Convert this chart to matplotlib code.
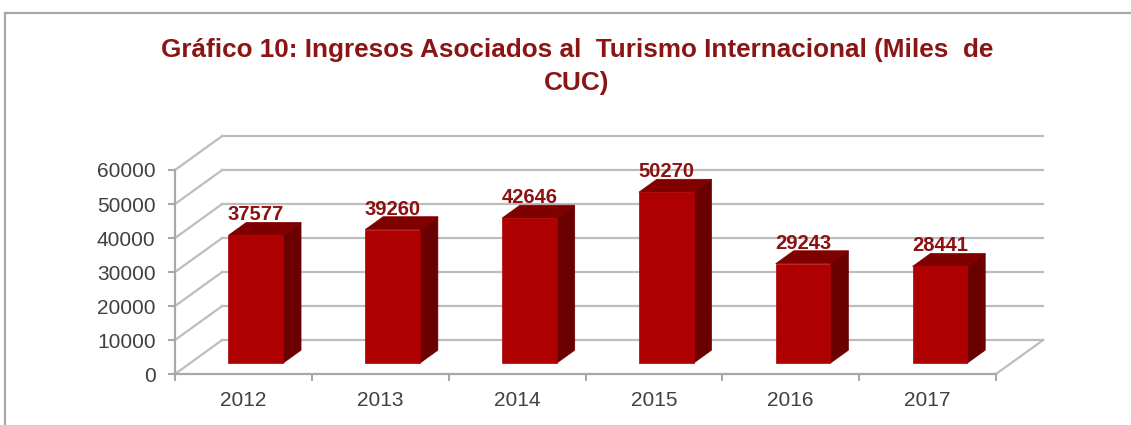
import matplotlib
matplotlib.use("Agg")
import matplotlib.pyplot as plt
from matplotlib.patches import Polygon
from matplotlib.lines import Line2D

# ── Data ─────────────────────────────────────────────────────────────────────
years  = ["2012", "2013", "2014", "2015", "2016", "2017"]
values = [37577, 39260, 42646, 50270, 29243, 28441]
yticks = [0, 10000, 20000, 30000, 40000, 50000, 60000]
title1 = "Gráfico 10: Ingresos Asociados al  Turismo Internacional (Miles  de"
title2 = "CUC)"

# ── Style ────────────────────────────────────────────────────────────────────
FONT   = "Liberation Sans"
c_front, c_side, c_top = "#AE0000", "#6A0000", "#800000"
c_lab   = "#8C1010"
c_grid  = "#BDBDBD"
c_axis  = "#A8A8A8"
c_tick  = "#404040"

# 3D depth offsets (in data units): one gridline step up, ~1/3 category right
DX, DY = 0.345, 10000
f0, f1 = 0.32, 0.70     # front / back of bars as fraction of depth
xs     = 0.09           # horizontal shift of bar front face
w      = 0.40           # bar width (categories)

fig = plt.figure(figsize=(11.31, 4.25), dpi=100)
ax = fig.add_axes([175/1131, 51/425, 821/1131, 204/425])
ax.set_xlim(-0.5, len(years) - 0.5)
ax.set_ylim(0, 60000)

# back wall + left side gridlines
n = len(years)
for v in yticks:
    ax.plot([-0.5, -0.5 + DX], [v, v + DY], color=c_grid, lw=1.6,
            clip_on=False, zorder=1)
    ax.plot([-0.5 + DX, n - 0.5 + DX], [v + DY, v + DY], color=c_grid,
            lw=1.6, clip_on=False, zorder=1)
# floor right edge
ax.plot([n - 0.5, n - 0.5 + DX], [0, DY], color=c_grid, lw=1.6,
        clip_on=False, zorder=1)

# bars
for i, v in enumerate(values):
    xc = i + xs
    x0, x1 = xc - w/2, xc + w/2
    y0 = f0 * DY
    ddx, ddy = (f1 - f0) * DX, (f1 - f0) * DY
    front = [(x0, y0), (x1, y0), (x1, v + y0), (x0, v + y0)]
    side  = [(x1, y0), (x1 + ddx, y0 + ddy), (x1 + ddx, v + y0 + ddy), (x1, v + y0)]
    top   = [(x0, v + y0), (x1, v + y0), (x1 + ddx, v + y0 + ddy), (x0 + ddx, v + y0 + ddy)]
    for pts, col in [(side, c_side), (top, c_top), (front, c_front)]:
        ax.add_patch(Polygon(pts, closed=True, facecolor=col, edgecolor=col,
                             lw=0.5, clip_on=False, zorder=3))
    ax.text(xc, v + f1 * DY + 600, f"{v}", ha="center", va="baseline",
            fontsize=14.5, fontweight="bold", color=c_lab, family=FONT, zorder=4)

# axes
for s in ["top", "right"]:
    ax.spines[s].set_visible(False)
for s in ["left", "bottom"]:
    ax.spines[s].set_color(c_axis)
    ax.spines[s].set_linewidth(1.6)
    ax.spines[s].set_zorder(2)
ax.patch.set_alpha(0)

ax.set_yticks(yticks)
ax.set_yticklabels([str(t) for t in yticks], fontsize=15, color=c_tick, family=FONT)
ax.tick_params(axis="y", length=5, width=1.5, color=c_axis, pad=9)

ax.set_xticks([i - 0.5 for i in range(n + 1)])
ax.set_xticklabels([])
ax.set_xticks(range(n), minor=True)
ax.set_xticklabels(years, minor=True, fontsize=15, color=c_tick, family=FONT)
ax.tick_params(axis="x", which="major", length=5, width=1.5, color=c_axis)
ax.tick_params(axis="x", which="minor", length=0, pad=12)

# title
for txt, base in [(title1, 57), (title2, 90)]:
    fig.text(577/1131, 1 - base/425, txt, ha="center", va="baseline",
             fontsize=18.8, fontweight="bold", color="#8B1414", family=FONT)

# outer frame
fig.add_artist(Line2D([5/1131, 1], [1 - 13/425, 1 - 13/425], color=c_axis, lw=1.6))
fig.add_artist(Line2D([5/1131, 5/1131], [0, 1 - 13/425], color=c_axis, lw=1.6))

fig.savefig("out.png", dpi=100)
